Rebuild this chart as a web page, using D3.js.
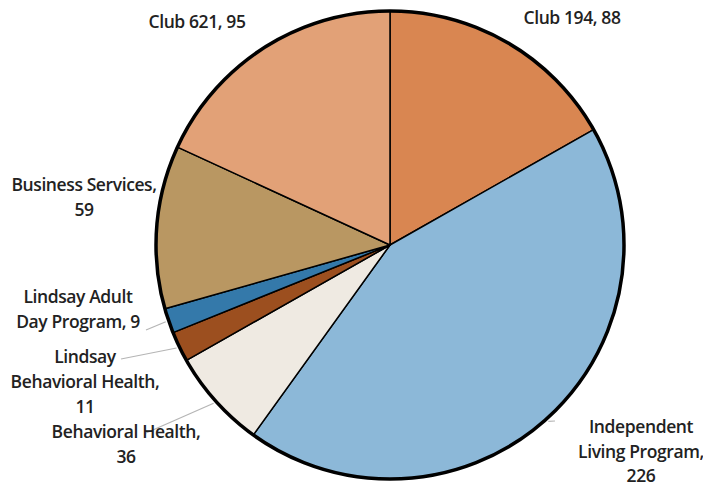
<!DOCTYPE html>
<html>
<head>
<meta charset="utf-8">
<script src="https://cdn.jsdelivr.net/npm/d3@7"></script>
<style>
  body { margin: 0; background: #fff; }
  text { font-family: "Open Sans", sans-serif; font-weight: 600; fill: #222; letter-spacing: -0.4px; }
</style>
</head>
<body>
<div id="chart"></div>
<script>
// data, clockwise from 12 o'clock
const programs = [
  "Club 194",
  "Independent Living Program",
  "Behavioral Health",
  "Lindsay Behavioral Health",
  "Lindsay Adult Day Program",
  "Business Services",
  "Club 621",
];
const clients = [88, 226, 36, 11, 9, 59, 95];
const sliceColors = ["#d98651", "#8cb8d8", "#efeae2", "#9c4f1f", "#3479aa", "#b99762", "#e2a177"];

// label text lines, and where they sit (layout only)
const labelLines = [
  ["Club 194, 88"],
  ["Independent", "Living Program,", "226"],
  ["Behavioral Health,", "36"],
  ["Lindsay", "Behavioral Health,", "11"],
  ["Lindsay Adult", "Day Program, 9"],
  ["Business Services,", "59"],
  ["Club 621, 95"],
];
const labelXY = [[572, 24], [641, 433], [126, 438], [85, 363], [78, 303], [84, 191], [197, 28]];
// leader line end near the label (null = no leader)
const leaderEnd = [null, [555, 421], [146, 433], [121, 359], [146, 330], null, null];
const lineGap = [25, 24.5, 25, 25, 25, 25, 25];

const width = 703, height = 489;
const cx = 390, cy = 245, r = 234;

const svg = d3.select("#chart").append("svg")
  .attr("width", width)
  .attr("height", height);

const g = svg.append("g").attr("transform", `translate(${cx},${cy})`);

const pie = d3.pie().sort(null).value((d) => d.value);
const arcs = pie(programs.map((p, i) => ({ name: p, value: clients[i], i })));
const arc = d3.arc().innerRadius(0).outerRadius(r);

g.selectAll("path.slice")
  .data(arcs)
  .join("path")
  .attr("class", "slice")
  .attr("d", arc)
  .attr("fill", (d, i) => sliceColors[i])
  .attr("stroke", "#000")
  .attr("stroke-width", 1.5)
  .attr("stroke-linejoin", "round");

// thick outer rim
g.append("circle")
  .attr("r", r)
  .attr("fill", "none")
  .attr("stroke", "#000")
  .attr("stroke-width", 3.5);

// leader lines from the rim to the labels
const rimPoint = (d) => {
  const a = (d.startAngle + d.endAngle) / 2;
  return [Math.sin(a) * (r + 3), -Math.cos(a) * (r + 3)];
};
arcs.forEach((d, i) => {
  if (!leaderEnd[i]) return;
  const p = rimPoint(d);
  g.append("line")
    .attr("x1", p[0])
    .attr("y1", p[1])
    .attr("x2", leaderEnd[i][0] - cx)
    .attr("y2", leaderEnd[i][1] - cy)
    .attr("stroke", "#b5b5b5")
    .attr("stroke-width", 1.2);
});

// labels
svg.selectAll("text.lbl")
  .data(arcs)
  .join("text")
  .attr("class", "lbl")
  .attr("text-anchor", "middle")
  .attr("font-size", 17.5)
  .attr("transform", (d, i) => `translate(${labelXY[i][0]},${labelXY[i][1]})`)
  .each(function (d, i) {
    d3.select(this)
      .selectAll("tspan")
      .data(labelLines[i])
      .join("tspan")
      .attr("x", 0)
      .attr("y", (t, j) => j * lineGap[i])
      .text((t) => t);
  });
</script>
</body>
</html>
